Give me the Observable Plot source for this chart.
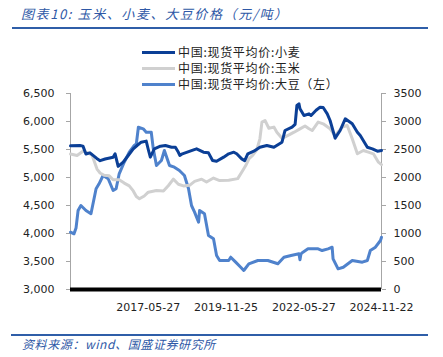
<!DOCTYPE html>
<html><head><meta charset="utf-8">
<script src="https://cdn.jsdelivr.net/npm/d3@7"></script>
<script src="https://cdn.jsdelivr.net/npm/@observablehq/plot@0.6"></script>
<style>
body{margin:0;width:443px;height:357px;position:relative;background:#fff;overflow:hidden;font-family:"Noto Sans CJK SC",sans-serif}
.abs{position:absolute}
.lg{position:absolute;left:142px;height:12px;line-height:12px;font-size:12px;color:#222;letter-spacing:0.7px;white-space:nowrap}
.lg span{display:inline-block;width:33px;height:3px;vertical-align:middle;margin-right:3px;position:relative;top:-1px}
</style></head>
<body>
<div id="chart" class="abs" style="left:0;top:0"></div>
<div class="abs" style="left:21px;top:7px;font-size:13px;line-height:13px;font-style:italic;color:#2e58a6;letter-spacing:1.6px;white-space:nowrap">图表10: 玉米、小麦、大豆价格（元/吨）</div>
<div class="abs" style="left:12px;top:27px;width:416px;height:1.5px;background:#2f5ea8"></div>
<div id="legend"></div>
<div class="abs" style="left:11px;top:334px;width:417px;height:1.5px;background:#2f5ea8"></div>
<div class="abs" style="left:22px;top:337px;font-size:12px;line-height:13px;font-style:italic;color:#2e58a6;letter-spacing:0.6px;white-space:nowrap">资料来源：wind、国盛证券研究所</div>
<script>
// 中国:现货平均价 (元/吨)
const wheat = [["2014-11-28",2565],["2015-03-18",2571],["2015-04-23",2560],["2015-05-28",2420],["2015-07-14",2440],["2015-10-02",2340],["2015-11-10",2300],["2016-01-08",2330],["2016-04-11",2363],["2016-05-04",2423],["2016-06-09",2200],["2016-08-07",2274],["2016-10-05",2393],["2016-12-03",2512],["2017-01-16",2571],["2017-03-06",2631],["2017-05-04",2650],["2017-05-28",2500],["2017-06-21",2363],["2017-08-07",2512],["2017-10-17",2560],["2017-12-15",2571],["2018-02-25",2541],["2018-04-11",2541],["2018-05-16",2450],["2018-06-02",2393],["2018-07-02",2423],["2018-11-10",2494],["2018-12-15",2512],["2019-03-06",2452],["2019-05-04",2440],["2019-06-21",2304],["2019-08-07",2290],["2019-10-29",2363],["2019-12-27",2423],["2020-02-25",2452],["2020-03-30",2423],["2020-05-28",2333],["2020-07-02",2300],["2020-08-07",2423],["2020-10-17",2470],["2020-12-27",2541],["2021-03-18",2571],["2021-06-09",2541],["2021-09-12",2631],["2021-10-17",2839],["2022-01-08",2899],["2022-02-13",2950],["2022-03-06",3286],["2022-03-30",3316],["2022-04-11",3226],["2022-05-28",3107],["2022-07-26",3137],["2022-08-19",3107],["2022-10-17",3200],["2022-12-03",3256],["2023-01-08",3250],["2023-02-25",3137],["2023-03-30",3018],["2023-05-28",2702],["2023-07-26",2839],["2023-09-24",3048],["2023-12-15",2959],["2024-02-13",2809],["2024-03-18",2750],["2024-06-09",2541],["2024-08-07",2512],["2024-10-05",2470],["2024-11-22",2482]];
const corn = [["2014-11-28",2420],["2015-02-13",2393],["2015-04-23",2470],["2015-06-21",2440],["2015-08-07",2400],["2015-10-05",2150],["2015-11-10",2080],["2015-12-27",2040],["2016-02-25",2030],["2016-04-11",1960],["2016-06-21",1960],["2016-08-19",1900],["2016-10-17",1850],["2016-12-03",1760],["2017-01-08",1660],["2017-02-13",1620],["2017-04-11",1670],["2017-05-28",1738],["2017-09-01",1768],["2017-11-22",1760],["2018-01-20",1857],["2018-03-18",1970],["2018-05-16",1880],["2018-07-14",1850],["2018-09-24",1860],["2018-11-22",1930],["2019-02-13",1970],["2019-04-11",1920],["2019-07-02",1990],["2019-09-12",1946],["2019-12-27",1950],["2020-04-11",1980],["2020-06-09",2125],["2020-07-14",2214],["2020-08-19",2330],["2020-10-05",2400],["2020-11-22",2500],["2020-12-27",2691],["2021-01-20",2988],["2021-02-25",3018],["2021-04-11",2880],["2021-06-09",2900],["2021-07-14",2809],["2021-09-12",2700],["2021-12-03",2760],["2022-02-01",2809],["2022-04-11",2869],["2022-06-09",2920],["2022-07-26",2870],["2022-09-01",2839],["2022-11-10",2990],["2023-01-08",2959],["2023-03-30",2869],["2023-05-28",2750],["2023-08-19",2899],["2023-10-17",2929],["2023-12-15",2691],["2024-02-13",2423],["2024-04-23",2482],["2024-06-21",2452],["2024-08-19",2423],["2024-10-17",2274],["2024-11-22",2230]];
const soybean = [["2014-11-28",4023],["2015-01-08",3995],["2015-02-01",4100],["2015-02-25",4411],["2015-03-30",4500],["2015-05-28",4411],["2015-07-26",4352],["2015-09-24",4798],["2015-10-29",4887],["2015-12-15",5036],["2016-02-13",4977],["2016-04-11",4768],["2016-05-16",4798],["2016-06-21",5066],["2016-08-19",5273],["2016-10-17",5452],["2016-12-15",5571],["2017-01-08",5600],["2017-02-01",5898],["2017-03-30",5869],["2017-05-04",5809],["2017-07-02",5809],["2017-07-26",5512],["2017-09-01",5214],["2017-10-29",5304],["2017-12-03",5482],["2018-02-01",5214],["2018-03-30",5184],["2018-05-28",5125],["2018-07-26",5036],["2018-09-12",4798],["2018-10-17",4500],["2018-11-22",4381],["2019-01-08",4202],["2019-01-20",4411],["2019-03-18",4352],["2019-05-04",3964],["2019-07-02",3905],["2019-08-07",3607],["2019-09-12",3518],["2019-12-27",3518],["2020-01-20",3577],["2020-03-18",3488],["2020-05-16",3398],["2020-06-21",3339],["2020-08-19",3459],["2020-12-03",3518],["2021-03-30",3518],["2021-07-26",3459],["2021-10-05",3577],["2021-12-27",3607],["2022-03-30",3637],["2022-04-11",3530],["2022-04-23",3637],["2022-05-16",3666],["2022-07-14",3726],["2022-11-10",3726],["2022-12-27",3696],["2023-03-06",3726],["2023-04-23",3755],["2023-05-04",3548],["2023-07-02",3369],["2023-09-01",3398],["2023-12-15",3518],["2024-04-11",3488],["2024-06-09",3518],["2024-07-14",3696],["2024-09-12",3755],["2024-11-10",3875],["2024-11-22",3934]];

const seriesNames = ["中国:现货平均价:小麦","中国:现货平均价:玉米","中国:现货平均价:大豆（左）"];
const seriesColors = ["#0b3f96","#d0d0d0","#4f82cc"];
const leftTicks = [3000,3500,4000,4500,5000,5500,6000,6500];
const rightTicks = [0,500,1000,1500,2000,2500,3000,3500];
const xTicks = ["2017-05-27","2019-11-25","2022-05-27","2024-11-22"];
const xStart = "2014-11-28", xEnd = "2024-11-22";

const parse = d3.utcParse("%Y-%m-%d");
const leftMin = leftTicks[0], rightMin = rightTicks[0];
const offset = leftMin - rightMin; // right axis shares scale with left, shifted
const toRows = (arr, shift) => arr.map(([d, v]) => ({date: parse(d), v, y: v + shift}));
const W = toRows(wheat, offset), C = toRows(corn, offset), S = toRows(soybean, 0);

const chart = Plot.plot({
  width: 443, height: 320,
  marginLeft: 70, marginRight: 62, marginTop: 93, marginBottom: 31,
  style: {background: "transparent", fontFamily: "DejaVu Sans", fontSize: "11px", color: "#222"},
  x: {type: "utc", domain: [parse(xStart), parse(xEnd)]},
  y: {domain: [leftTicks[0], leftTicks[leftTicks.length-1]]},
  marks: [
    Plot.ruleX([parse(xStart)], {stroke: "#a6a6a6", strokeWidth: 1}),
    Plot.ruleX([parse(xEnd)], {stroke: "#a6a6a6", strokeWidth: 1}),
    Plot.axisY({anchor: "left", ticks: leftTicks, tickFormat: d3.format(","), tickSize: 4, tickPadding: 12, stroke: "#a6a6a6", fill: "#222", label: null}),
    Plot.axisY({anchor: "right", ticks: rightTicks.map(v => v + offset), tickFormat: d => String(d - offset), tickSize: 4, tickPadding: 8, stroke: "#a6a6a6", fill: "#222", label: null}),
    Plot.axisX({ticks: xTicks.map(parse), tickFormat: d3.utcFormat("%Y-%m-%d"), tickSize: 0, tickPadding: 14, fill: "#222", label: null}),
    Plot.line(S, {x: "date", y: "y", stroke: seriesColors[2], strokeWidth: 3}),
    Plot.line(C, {x: "date", y: "y", stroke: seriesColors[1], strokeWidth: 3}),
    Plot.line(W, {x: "date", y: "y", stroke: seriesColors[0], strokeWidth: 3}),
    Plot.ruleY([leftMin], {stroke: "#000", strokeWidth: 4})
  ]
});
document.getElementById("chart").appendChild(chart);

const lg = document.getElementById("legend");
const rowTops = [46, 62, 78];
seriesNames.forEach((n, i) => {
  const el = document.createElement("div");
  el.className = "lg";
  el.style.top = rowTops[i] + "px";
  el.innerHTML = `<span style="background:${seriesColors[i]}"></span>${n}`;
  lg.appendChild(el);
});
</script>
</body></html>
